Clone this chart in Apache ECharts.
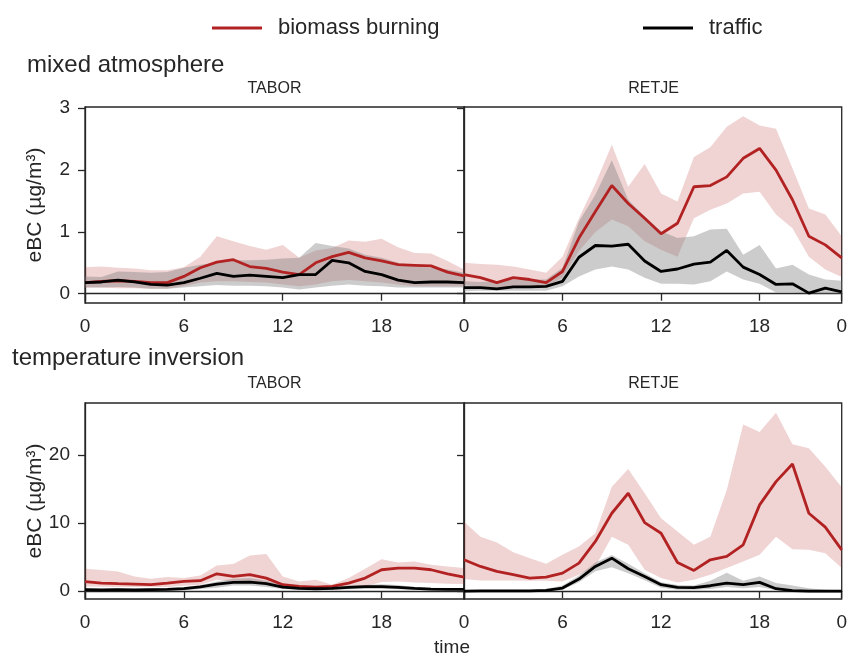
<!DOCTYPE html>
<html lang="en">
<head>
<meta charset="UTF-8">
<title>eBC diurnal cycles</title>
<script src="https://cdn.jsdelivr.net/npm/echarts@6/dist/echarts.min.js"></script>
<style>
  body { margin: 0; background: #fff; }
  #main { width: 850px; height: 657px; }
</style>
</head>
<body>
<div id="main"></div>
<script>
// hours of the day (x categories) and the ticks shown
var hours = ['0','1','2','3','4','5','6','7','8','9','10','11','12','13','14','15','16','17','18','19','20','21','22','23'];
var tickHours = [0, 6, 12, 18, 23];
var tickText = ['0', '6', '12', '18', '0'];

// y ticks per row
var yTicksMixed = [0, 1, 2, 3];
var yTicksInv = [0, 10, 20];

// mixed atmosphere - TABOR
var mixTaborBB   = [0.18,0.2,0.21,0.2,0.18,0.18,0.28,0.42,0.51,0.55,0.44,0.41,0.35,0.31,0.5,0.6,0.67,0.58,0.53,0.47,0.46,0.45,0.35,0.29];
var mixTaborBBLo = [0.1,0.1,0.09,0.09,0.08,0.08,0.12,0.18,0.2,0.2,0.19,0.18,0.15,0.12,0.15,0.2,0.22,0.2,0.18,0.15,0.12,0.12,0.12,0.12];
var mixTaborBBHi = [0.43,0.44,0.42,0.41,0.38,0.38,0.43,0.6,0.93,0.85,0.77,0.71,0.79,0.58,0.7,0.74,0.86,0.84,0.89,0.75,0.66,0.65,0.53,0.39];
var mixTaborTr   = [0.18,0.19,0.22,0.19,0.15,0.14,0.18,0.25,0.33,0.28,0.3,0.28,0.26,0.31,0.31,0.54,0.5,0.36,0.31,0.22,0.18,0.19,0.19,0.18];
var mixTaborTrLo = [0.1,0.1,0.11,0.1,0.08,0.08,0.1,0.12,0.14,0.13,0.13,0.12,0.1,0.07,0.1,0.13,0.15,0.13,0.12,0.1,0.1,0.1,0.1,0.1];
var mixTaborTrHi = [0.28,0.27,0.36,0.35,0.34,0.35,0.42,0.47,0.5,0.54,0.54,0.55,0.57,0.58,0.82,0.77,0.73,0.63,0.58,0.5,0.44,0.42,0.39,0.34];

// mixed atmosphere - RETJE
var mixRetjeBB   = [0.31,0.26,0.18,0.26,0.23,0.18,0.36,0.9,1.33,1.75,1.46,1.22,0.97,1.14,1.73,1.75,1.89,2.19,2.35,2.0,1.52,0.93,0.79,0.58];
var mixRetjeBBLo = [0.15,0.1,0.07,0.1,0.1,0.12,0.26,0.69,1.0,1.2,1.09,0.85,0.71,0.6,1.22,1.36,1.46,1.62,1.65,1.28,1.06,0.6,0.39,0.27];
var mixRetjeBBHi = [0.5,0.48,0.47,0.44,0.39,0.34,0.6,1.22,1.78,2.41,1.73,2.1,1.62,1.49,2.21,2.37,2.7,2.87,2.72,2.67,2.03,1.38,1.28,0.93];
var mixRetjeTr   = [0.1,0.1,0.08,0.11,0.11,0.12,0.2,0.59,0.78,0.77,0.8,0.53,0.36,0.4,0.48,0.51,0.7,0.43,0.31,0.15,0.16,0.01,0.09,0.03];
var mixRetjeTrLo = [0.04,0.05,0.05,0.05,0.05,0.05,0.12,0.28,0.39,0.44,0.39,0.26,0.16,0.16,0.15,0.2,0.36,0.23,0.16,0.02,0.02,0,0,0];
var mixRetjeTrHi = [0.2,0.19,0.2,0.23,0.23,0.23,0.42,1.17,1.6,2.16,1.52,1.25,1.01,0.9,0.93,1.04,1.05,0.63,0.79,0.41,0.47,0.31,0.23,0.21];

// temperature inversion - TABOR
var invTaborBB   = [1.37,1.17,1.08,1.03,0.93,1.17,1.42,1.52,2.54,2.15,2.4,1.9,0.93,0.68,0.59,0.68,1.17,1.9,3.13,3.37,3.37,3.13,2.54,2.05];
var invTaborBBLo = [0.68,0.62,0.6,0.6,0.58,0.6,0.78,0.93,1.66,1.42,1.42,1.27,0.59,0.4,0.35,0.4,0.55,0.68,1.32,1.42,1.27,1.17,1.08,1.03];
var invTaborBBHi = [3.28,3.08,2.88,2.15,1.81,2.05,1.9,2.3,3.77,3.96,5.23,5.43,2.15,1.42,1.66,0.93,1.9,3.28,4.69,4.2,4.35,3.86,3.62,3.37];
var invTaborTr   = [0.2,0.15,0.2,0.15,0.2,0.25,0.35,0.6,1.03,1.27,1.32,1.08,0.59,0.39,0.34,0.39,0.54,0.64,0.64,0.54,0.39,0.29,0.25,0.25];
var invTaborTrLo = [0.02,0,0.02,0,0.02,0.05,0.1,0.3,0.5,0.8,0.8,0.6,0.3,0.2,0.15,0.2,0.25,0.3,0.3,0.25,0.15,0.1,0.08,0.08];
var invTaborTrHi = [0.4,0.35,0.4,0.35,0.4,0.45,0.6,0.9,1.4,1.8,1.9,1.5,0.8,0.5,0.45,0.55,0.8,0.9,1.0,0.9,0.6,0.5,0.45,0.4];

// temperature inversion - RETJE
var invRetjeBB   = [4.6,3.62,2.88,2.4,1.9,2.05,2.64,4.1,7.29,11.44,14.38,10.07,8.5,4.2,3.03,4.6,5.09,6.8,12.67,16.09,18.68,11.44,9.39,6.06];
var invRetjeBBLo = [1.76,1.56,1.56,1.56,1.52,1.52,1.42,2.4,3.62,8.0,6.8,3.13,1.9,1.27,1.66,2.4,3.37,4.35,5.33,8.0,6.16,6.06,5.57,3.37];
var invRetjeBBHi = [10.2,8.0,7.14,5.72,4.84,4.0,5.33,6.55,8.5,15.35,17.95,14.38,10.7,8.75,6.8,8.0,14.87,24.5,23.4,26.2,21.57,20.98,18.29,15.26];
var invRetjeTr   = [0,0.02,0.02,0.02,0.02,0.1,0.44,1.76,3.62,4.84,3.28,2.15,0.93,0.54,0.49,0.78,1.17,0.93,1.27,0.34,0.05,0,0,0];
var invRetjeTrLo = [0,0,0,0,0,0,0.2,1.3,2.9,3.5,2.6,1.6,0.5,0.2,0.2,0.3,0.6,0.4,0.6,0.1,0,0,0,0];
var invRetjeTrHi = [0.1,0.1,0.1,0.1,0.15,0.3,0.8,2.3,4.2,5.3,4.0,2.6,1.3,0.9,0.8,1.5,2.7,1.5,2.15,1.2,0.8,0.4,0.2,0.1];

var INK = '#262626';
var RED = '#b22222';
var FONT = '"Liberation Sans", Arial, sans-serif';

var myChart = echarts.init(document.getElementById('main'));

function isTick(i) { return tickHours.indexOf(i) >= 0; }

function diff(hi, lo) {
    var out = [];
    for (var i = 0; i < hi.length; i++) out.push(+(hi[i] - lo[i]).toFixed(3));
    return out;
}

// band = invisible lower line + stacked difference filled
function band(gi, key, lo, hi, fill) {
    return [
        { type: 'line', name: key + 'lo', xAxisIndex: gi, yAxisIndex: gi, stack: key + gi,
          data: lo, symbol: 'none', silent: true, lineStyle: { opacity: 0 } },
        { type: 'line', name: key + 'hi', xAxisIndex: gi, yAxisIndex: gi, stack: key + gi,
          data: diff(hi, lo), symbol: 'none', silent: true, lineStyle: { opacity: 0 },
          areaStyle: { color: fill, opacity: 1 } }
    ];
}

function line(gi, name, data, color) {
    return { type: 'line', name: name, xAxisIndex: gi, yAxisIndex: gi, data: data,
             symbol: 'none', itemStyle: { color: color },
             lineStyle: { color: color, width: 2.8 } };
}

function panel(gi, bb, bbLo, bbHi, tr, trLo, trHi) {
    return [].concat(
        band(gi, 'bb', bbLo, bbHi, 'rgba(178,34,34,0.2)'),
        [line(gi, 'biomass burning', bb, RED)],
        band(gi, 'tr', trLo, trHi, 'rgba(128,128,128,0.4)'),
        [line(gi, 'traffic', tr, '#000')]
    );
}

var grids = [
    { left: 85, top: 107, width: 379, height: 196 },
    { left: 464, top: 107, width: 379, height: 196 },
    { left: 85, top: 403, width: 379, height: 196 },
    { left: 464, top: 403, width: 379, height: 196 }
];
grids.forEach(function (g) {
    g.show = true; g.borderColor = INK; g.borderWidth = 1.3; g.containLabel = false;
});

var axisLine = { show: true, lineStyle: { color: INK, width: 1.3 } };

var xAxes = [0, 1, 2, 3].map(function (gi) {
    var right = gi % 2 === 1;
    return {
        gridIndex: gi, type: 'category', data: hours, boundaryGap: false,
        axisLine: axisLine,
        axisTick: { show: true, length: 7, interval: function (i) { return isTick(i); },
                    lineStyle: { color: INK, width: 1.3 } },
        // right panels share their first "0" with the left panel's last one
        axisLabel: { interval: function (i) { return isTick(i) && !(right && i === 0); },
                     fontSize: 19, color: INK, margin: 14, fontFamily: FONT,
                     formatter: function (v, i) { return tickText[tickHours.indexOf(i)]; } },
        splitLine: { show: false }
    };
});

function yAxis(gi, min, max, ticks) {
    return {
        gridIndex: gi, type: 'value', min: min, max: max,
        axisLine: axisLine,
        axisTick: { show: true, length: 7, customValues: ticks, lineStyle: { color: INK, width: 1.3 } },
        axisLabel: { show: gi % 2 === 0, customValues: ticks, fontSize: 19, color: INK,
                     margin: 15, fontFamily: FONT },
        splitLine: { show: false }
    };
}
var yAxes = [
    yAxis(0, -0.15, 3.02, yTicksMixed),
    yAxis(1, -0.15, 3.02, yTicksMixed),
    yAxis(2, -1.17, 27.65, yTicksInv),
    yAxis(3, -1.17, 27.65, yTicksInv)
];

function txt(s, x, y, size, align, rot) {
    return { type: 'text', x: x, y: y, rotation: rot || 0, silent: true,
             style: { text: s, fontSize: size, fontFamily: FONT, fill: INK,
                      textAlign: align, textVerticalAlign: 'middle' } };
}

var legendBase = { orient: 'horizontal', icon: 'rect', itemWidth: 50, itemHeight: 3,
                   textStyle: { fontSize: 22, color: INK, fontFamily: FONT, padding: [0, 0, 0, 11] } };

myChart.setOption({
    animation: false,
    backgroundColor: '#fff',
    textStyle: { fontFamily: FONT },
    legend: [
        Object.assign({ left: 207, top: 12, data: ['biomass burning'] }, legendBase),
        Object.assign({ left: 638, top: 12, data: ['traffic'] }, legendBase)
    ],
    grid: grids,
    xAxis: xAxes,
    yAxis: yAxes,
    graphic: [
        txt('mixed atmosphere', 27, 65, 24, 'left'),
        txt('TABOR', 274.5, 89, 16, 'center'),
        txt('RETJE', 653.5, 89, 16, 'center'),
        txt('temperature inversion', 12, 358.5, 24, 'left'),
        txt('TABOR', 274.5, 384, 16, 'center'),
        txt('RETJE', 653.5, 384, 16, 'center'),
        txt('eBC (µg/m³)', 35, 205, 21, 'center', Math.PI / 2),
        txt('eBC (µg/m³)', 35, 501, 21, 'center', Math.PI / 2),
        txt('time', 452, 648, 19, 'center')
    ],
    series: [].concat(
        panel(0, mixTaborBB, mixTaborBBLo, mixTaborBBHi, mixTaborTr, mixTaborTrLo, mixTaborTrHi),
        panel(1, mixRetjeBB, mixRetjeBBLo, mixRetjeBBHi, mixRetjeTr, mixRetjeTrLo, mixRetjeTrHi),
        panel(2, invTaborBB, invTaborBBLo, invTaborBBHi, invTaborTr, invTaborTrLo, invTaborTrHi),
        panel(3, invRetjeBB, invRetjeBBLo, invRetjeBBHi, invRetjeTr, invRetjeTrLo, invRetjeTrHi)
    )
});
</script>
</body>
</html>
